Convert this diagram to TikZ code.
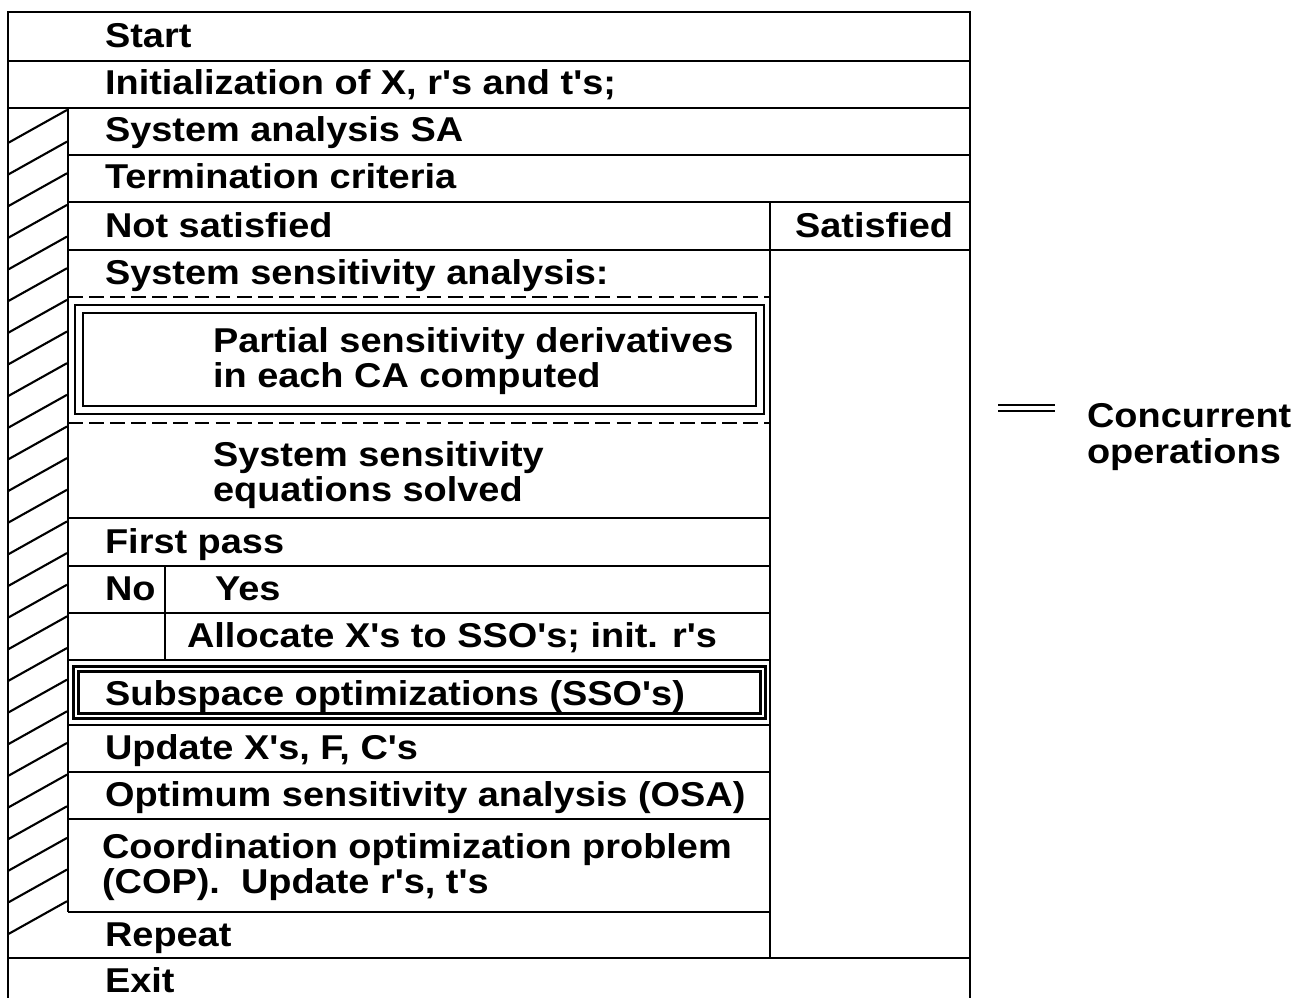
\documentclass[tikz,border=0pt]{standalone}
\usepackage{fontspec}
\setmainfont{Liberation Sans}[FakeStretch=1.1,Ligatures=TeXOff]
\begin{document}
\begin{tikzpicture}[x=0.01cm,y=-0.01cm,line width=0.6pt,
  txt/.style={inner sep=0pt,font=\fontsize{9.8}{10}\selectfont\bfseries,align=left,anchor=base west},
  txttwo/.style={txt,anchor=west},
  dashrule/.style={dash pattern=on 4.2pt off 1.8pt},
  dblbox/.style={double,double distance=1.6pt}]
\useasboundingbox (0,0) rectangle (1311,998);
\draw (8,998)--(8,12)--(970,12)--(970,998);
\draw (8,61)--(970,61);
\draw (8,108)--(970,108);
\draw (68,155)--(970,155);
\draw (68,202)--(970,202);
\draw (68,250)--(970,250);
\draw (770,202)--(770,958);
\draw (68,108)--(68,912);
\foreach \k in {0,...,25}
  \draw (8,{143+31.65*\k})--(67,{110+31.65*\k});
\draw[dashrule] (68,297)--(770,297);
\draw[dblbox] (79,309) rectangle (760,410);
\draw[dashrule] (68,423)--(770,423);
\draw (68,518)--(770,518);
\draw (68,566)--(770,566);
\draw (68,613)--(770,613);
\draw (165,566)--(165,660);
\draw (68,660)--(770,660);
\draw[dblbox,double distance=0.8pt] (76,669) rectangle (763,716);
\draw (68,725)--(770,725);
\draw (68,772)--(770,772);
\draw (68,819)--(770,819);
\draw (68,912)--(770,912);
\draw (8,958)--(970,958);
\node [txt,name=start] at (104,48){Start};
\node [txt,name=init] at (104,95){Initialization of X, r's and t's;};
\node [txt,name=sa] at (104,142){System analysis SA};
\node [txt,name=term] at (104,189){Termination criteria};
\node [txt,name=notsat] at (104,238){Not satisfied};
\node [txt,name=sat] at (794,238){Satisfied};
\node [txt,name=ssa] at (104,285){System sensitivity analysis:};
\node [txttwo,name=psd] at (212,361){Partial sensitivity derivatives\\in each CA computed};
\node [txttwo,name=sse] at (212,475){System sensitivity\\equations solved};
\node [txt,name=first] at (104,554){First pass};
\node [txt,name=no] at (104,601){No};
\node [txt,name=yes] at (214,601){Yes};
\node [txt,name=alloc] at (186,648){Allocate X's to SSO's; init. r's};
\node [txt,name=sso] at (104,706){Subspace optimizations (SSO's)};
\node [txt,name=upd] at (104,760){Update X's, F, C's};
\node [txt,name=osa] at (104,807){Optimum sensitivity analysis (OSA)};
\node [txttwo,name=cop] at (101,867){Coordination optimization problem\\(COP).\ \ Update r's, t's};
\node [txt,name=rep] at (104,947){Repeat};
\node [txt,name=exit] at (104,993){Exit};
\draw[double,double distance=1.1pt] (998,408)--(1055,408);
\node [txttwo,name=conc] at (1086,437){Concurrent\\operations};
\end{tikzpicture}
\end{document}
